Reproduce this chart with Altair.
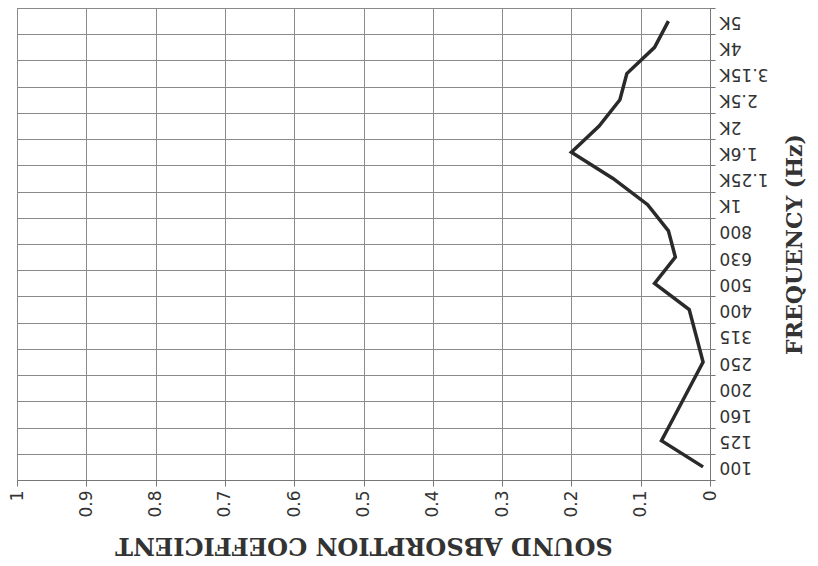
import altair as alt
import pandas as pd

freqs = ["100", "125", "160", "200", "250", "315", "400", "500", "630", "800",
         "1K", "1.25K", "1.6K", "2K", "2.5K", "3.15K", "4K", "5K"]
coef = [0.01, 0.07, 0.05, 0.03, 0.01, 0.02, 0.03, 0.08, 0.05, 0.06,
        0.09, 0.14, 0.20, 0.16, 0.13, 0.12, 0.08, 0.06]
x_ticks = [0, 0.1, 0.2, 0.3, 0.4, 0.5, 0.6, 0.7, 0.8, 0.9, 1]

df = pd.DataFrame({"freq": freqs, "coef": coef, "idx": list(range(len(freqs)))})

W, H = 693, 472

chart = alt.Chart(df).mark_line(color="#2a2a2a", strokeWidth=3.5).encode(
    x=alt.X("coef:Q",
            scale=alt.Scale(domain=[0, 1], reverse=True, nice=False, zero=False),
            axis=alt.Axis(values=x_ticks, format="~g", labelAngle=270,
                          labelFont="DejaVu Sans", labelFontSize=17, labelColor="#333",
                          labelPadding=4, tickSize=6, tickColor="#777", domainColor="#777",
                          gridColor="#8a8a8a", grid=True,
                          title="SOUND ABSORPTION COEFFICIENT", titleAngle=180,
                          titleFont="DejaVu Serif", titleFontSize=24, titleFontWeight="bold",
                          titleColor="#333", titleBaseline="middle",
                          titleX=W / 2, titleY=64)),
    y=alt.Y("freq:N", sort=freqs[::-1],
            scale=alt.Scale(type="band", paddingInner=0, paddingOuter=0),
            axis=alt.Axis(orient="right", tickBand="extent", grid=True, gridColor="#8a8a8a",
                          labelAngle=180, labelAlign="right", labelBaseline="middle",
                          labelFont="DejaVu Sans", labelFontSize=17, labelColor="#333",
                          labelPadding=4, tickSize=5, tickColor="#777", domainColor="#777",
                          title="FREQUENCY (Hz)", titleAngle=270,
                          titleFont="DejaVu Serif", titleFontSize=22, titleFontWeight="bold",
                          titleColor="#333", titleBaseline="middle",
                          titleX=84, titleY=H / 2)),
    order="idx:Q",
).properties(
    width=W, height=H,
    autosize=alt.AutoSizeParams(type="none"),
    padding={"left": 9, "top": 0, "right": 100, "bottom": 86},
).configure_view(stroke="#666", strokeWidth=1)

chart.save("out.html", embed_options={"renderer": "svg", "actions": False})
